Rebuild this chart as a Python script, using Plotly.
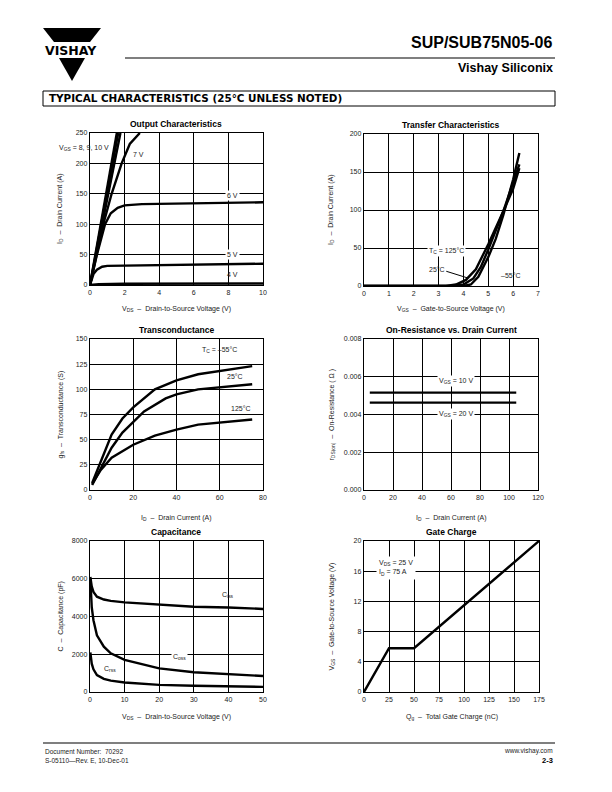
import plotly.graph_objects as go

W, H = 612, 792
FONT = "Liberation Sans"
TXT = "#222"

# ---------------- data ----------------
# Output characteristics (VDS in V, ID in A)
out_vds_10 = [0, 1.55]
out_id_10 = [0, 250]
out_vds_9 = [0, 1.63]
out_id_9 = [0, 250]
out_vds_8 = [0, 0.9, 1.76]
out_id_8 = [0, 126, 250]
out_vds_7 = [0, 0.4, 0.77, 1.25, 1.83, 2.3, 2.88]
out_id_7 = [0, 52, 100, 150, 200, 232, 250]
out_vds_6 = [0, 0.4, 0.87, 1.2, 1.6, 2.0, 3.0, 5.0, 8.0, 10.0]
out_id_6 = [0, 50, 100, 118, 127, 131, 133, 134, 135, 136]
out_vds_5 = [0, 0.2, 0.4, 0.7, 1.0, 2.0, 5.0, 8.0, 10.0]
out_id_5 = [0, 18, 25, 30, 31.5, 32, 33, 34, 35]
out_vds_4 = [0, 0.5, 2.0, 10.0]
out_id_4 = [0, 1.5, 2.0, 2.5]

# Transfer characteristics (VGS in V, ID in A)
tr_vgs_125 = [0, 3.3, 3.7, 4.1, 4.5, 5.0, 5.6, 6.0, 6.25]
tr_id_125 = [0, 0, 2, 8, 22, 55, 98, 128, 155]
tr_vgs_25 = [0, 3.6, 4.0, 4.4, 4.7, 5.0, 5.6, 6.0, 6.25]
tr_id_25 = [0, 0, 2, 10, 25, 48, 98, 135, 160]
tr_vgs_m55 = [0, 4.0, 4.3, 4.6, 5.0, 5.3, 5.6, 6.0, 6.25]
tr_id_m55 = [0, 0, 2, 12, 38, 62, 93, 140, 175]

# Transconductance (ID in A, gfs in S)
gfs_id_m55 = [1, 5, 10, 15, 20, 30, 40, 50, 60, 75]
gfs_m55 = [7, 28, 55, 71, 82, 100, 109, 115, 118, 123]
gfs_id_25 = [1, 5, 10, 15, 20, 25, 35, 40, 50, 60, 75]
gfs_25 = [5, 22, 42, 57, 68, 78, 91, 95, 100, 102, 105]
gfs_id_125 = [1, 5, 10, 20, 30, 40, 50, 60, 75]
gfs_125 = [6, 20, 32, 45, 54, 60, 65, 67, 70]

# On-resistance vs drain current
ron_id = [4, 105]
ron_10v = [0.00516, 0.00516]
ron_20v = [0.00463, 0.00463]

# Capacitance (VDS in V, C in pF)
cap_vds = [0.1, 0.5, 1, 2, 4, 6, 10, 20, 30, 40, 50]
c_iss = [6100, 5600, 5300, 5050, 4900, 4830, 4750, 4620, 4520, 4480, 4400]
c_oss = [6000, 4500, 3800, 3000, 2400, 2050, 1700, 1250, 1050, 950, 850]
c_rss = [2100, 1500, 1200, 900, 700, 600, 500, 380, 330, 300, 270]

# Gate charge (Qg in nC, VGS in V)
qg = [0, 25, 50, 175]
vgs_qg = [0, 5.8, 5.8, 20]


def px(x):
    return x / W


def py(y):
    return 1 - y / H


# plot areas in pixels (left, right, top, bottom)
areas = {
    1: (90, 263, 133, 285),
    2: (364, 538, 134, 286),
    3: (90, 263, 339, 490),
    4: (364, 538, 339, 490),
    5: (90, 263, 541, 692),
    6: (364, 539, 541, 692),
}
axes_cfg = {
    1: dict(xr=[0, 10], xd=2, yr=[0, 250], yd=50, yf=None),
    2: dict(xr=[0, 7], xd=1, yr=[0, 200], yd=50, yf=None),
    3: dict(xr=[0, 80], xd=20, yr=[0, 150], yd=25, yf=None),
    4: dict(xr=[0, 120], xd=20, yr=[0, 0.008], yd=0.002, yf=".3f"),
    5: dict(xr=[0, 50], xd=10, yr=[0, 8000], yd=2000, yf=None),
    6: dict(xr=[0, 175], xd=25, yr=[0, 20], yd=4, yf=None),
}

fig = go.Figure()

LW = 2.4


def line(x, y, n):
    fig.add_trace(go.Scatter(
        x=x, y=y, mode="lines", xaxis=f"x{n}", yaxis=f"y{n}",
        line=dict(color="black", width=LW), showlegend=False,
        hoverinfo="skip"))


for xs, ys in [(out_vds_10, out_id_10), (out_vds_9, out_id_9), (out_vds_8, out_id_8),
               (out_vds_7, out_id_7), (out_vds_6, out_id_6), (out_vds_5, out_id_5),
               (out_vds_4, out_id_4)]:
    line(xs, ys, 1)
for xs, ys in [(tr_vgs_125, tr_id_125), (tr_vgs_25, tr_id_25), (tr_vgs_m55, tr_id_m55)]:
    line(xs, ys, 2)
for xs, ys in [(gfs_id_m55, gfs_m55), (gfs_id_25, gfs_25), (gfs_id_125, gfs_125)]:
    line(xs, ys, 3)
line(ron_id, ron_10v, 4)
line(ron_id, ron_20v, 4)
for ys in [c_iss, c_oss, c_rss]:
    line(cap_vds, ys, 5)
line(qg, vgs_qg, 6)

layout = dict(
    template="none",
    width=W, height=H, margin=dict(l=0, r=0, t=0, b=0),
    paper_bgcolor="white", plot_bgcolor="white",
    font=dict(family=FONT, size=7, color=TXT),
    showlegend=False,
)
for n, (l, r, t, b) in areas.items():
    c = axes_cfg[n]
    sx = "" if n == 1 else str(n)
    common = dict(showgrid=True, gridcolor="#000000", gridwidth=1.3,
                  showline=True, linecolor="black", linewidth=1.4, mirror=True,
                  zeroline=False, ticks="", tickfont=dict(size=7, color=TXT),
                  fixedrange=True, tickmode="linear")
    layout[f"xaxis{sx}"] = dict(domain=[px(l), px(r)], range=c["xr"], dtick=c["xd"],
                                tick0=0, anchor=f"y{n}", **common)
    ya = dict(domain=[py(b), py(t)], range=c["yr"], dtick=c["yd"], tick0=0,
              anchor=f"x{n}", **common)
    if c["yf"]:
        ya["tickformat"] = c["yf"]
    layout[f"yaxis{sx}"] = ya

fig.update_layout(**layout)

ann = []


def pa(text, x, y, size=7, bold=False, anchor="center", color=TXT, angle=0, family=FONT):
    if bold:
        text = f"<b>{text}</b>"
    ann.append(dict(text=text, x=px(x), y=py(y), xref="paper", yref="paper",
                    showarrow=False, xanchor=anchor, yanchor="middle",
                    font=dict(family=family, size=size, color=color), textangle=angle))


def da(text, x, y, n, anchor="center", bg=None):
    d = dict(text=text, x=x, y=y, xref=f"x{n}", yref=f"y{n}", showarrow=False,
             xanchor=anchor, yanchor="middle", font=dict(family=FONT, size=7, color=TXT))
    if bg:
        d["bgcolor"] = bg
        d["borderpad"] = 1
    ann.append(d)


# chart titles
titles = {1: "Output Characteristics", 2: "Transfer Characteristics", 3: "Transconductance",
          4: "On-Resistance vs. Drain Current", 5: "Capacitance", 6: "Gate Charge"}
for n, t in titles.items():
    l, r, tp, b = areas[n]
    pa(t, (l + r) / 2, tp - 9, size=8.5, bold=True, color="black")

# axis titles
xtitles = {1: "V<sub>DS</sub>  –  Drain-to-Source Voltage (V)",
           2: "V<sub>GS</sub>  –  Gate-to-Source Voltage (V)",
           3: "I<sub>D</sub>  –  Drain Current (A)",
           4: "I<sub>D</sub>  –  Drain Current (A)",
           5: "V<sub>DS</sub>  –  Drain-to-Source Voltage (V)",
           6: "Q<sub>g</sub>  –  Total Gate Charge (nC)"}
xt_y = {1: 309, 2: 309, 3: 518, 4: 518, 5: 717, 6: 717}
for n, t in xtitles.items():
    l, r, tp, b = areas[n]
    pa(t, (l + r) / 2, xt_y[n], size=7)

ytitles = {1: "I<sub>D</sub>  –  Drain Current (A)",
           2: "I<sub>D</sub>  –  Drain Current (A)",
           3: "g<sub>fs</sub>  –  Transconductance (S)",
           4: "r<sub>DS(on)</sub>  –  On-Resistance ( Ω )",
           5: "C  –  Capacitance (pF)",
           6: "V<sub>GS</sub>  –  Gate-to-Source Voltage (V)"}
for n, t in ytitles.items():
    l, r, tp, b = areas[n]
    xx = 60 if l < 200 else 331
    pa(t, xx, (tp + b) / 2, size=7, angle=-90)

# in-chart labels
pa("V<sub>GS</sub> = 8, 9, 10 V", 57, 148, anchor="left")
da("7 V", 2.83, 215, 1)
da("6 V", 8.23, 148, 1, bg="white")
da("5 V", 8.23, 49.5, 1, bg="white")
da("4 V", 8.23, 17.6, 1)

da("T<sub>C</sub> = 125°C", 3.31, 46, 2, bg="white")
da("25°C", 2.94, 21.5, 2)
ann.append(dict(x=4.18, y=10.5, ax=3.25, ay=20, xref="x2", yref="y2", axref="x2", ayref="y2",
                showarrow=True, arrowhead=0, arrowwidth=1, arrowcolor="black", text=""))
da("–55°C", 5.9, 14, 2)

da("T<sub>C</sub> = –55°C", 60, 139, 3)
da("25°C", 67, 112.6, 3)
da("125°C", 70, 81, 3)

da("V<sub>GS</sub> = 10 V", 63.7, 0.00578, 4, bg="white")
da("V<sub>GS</sub> = 20 V", 63.7, 0.00401, 4, bg="white")

da("C<sub>iss</sub>", 39.9, 5130, 5)
da("C<sub>oss</sub>", 26, 1860, 5, bg="white")
da("C<sub>rss</sub>", 5.8, 1200, 5)

ann.append(dict(text="V<sub>DS</sub> = 25 V<br>I<sub>D</sub> = 75 A", x=12, y=16.4,
                xref="x6", yref="y6", showarrow=False, xanchor="left", yanchor="middle",
                align="left", bgcolor="white", borderpad=2,
                font=dict(family=FONT, size=7, color=TXT)))

# header / footer text
pa("SUP/SUB75N05-06", 555, 43, size=16, bold=True, anchor="right", color="black")
pa("Vishay Siliconix", 555, 68, size=12.5, bold=True, anchor="right", color="black")
pa("TYPICAL CHARACTERISTICS (25°C UNLESS NOTED)", 47, 98.5, size=10.4, bold=True,
   anchor="left", color="black", family="DejaVu Sans")
pa("VISHAY", 71, 50, size=12.5, bold=True, color="black", family="DejaVu Sans")
pa("Document Number:  70292", 43, 751, size=6.5, anchor="left")
pa("S-05110—Rev. E, 10-Dec-01", 43, 760, size=6.5, anchor="left")
pa("www.vishay.com", 555, 751, size=6.5, anchor="right")
pa("2-3", 555, 760, size=7.5, bold=True, anchor="right", color="black")

fig.update_layout(annotations=ann)

shapes = [
    # header rule
    dict(type="line", xref="paper", yref="paper", x0=px(125), x1=px(555), y0=py(58), y1=py(58),
         line=dict(color="black", width=1.2)),
    # section box
    dict(type="rect", xref="paper", yref="paper", x0=px(43), x1=px(555), y0=py(91), y1=py(106),
         line=dict(color="black", width=1), fillcolor="rgba(0,0,0,0)"),
    # footer rule
    dict(type="line", xref="paper", yref="paper", x0=px(43), x1=px(555), y0=py(743), y1=py(743),
         line=dict(color="black", width=1.2)),
    # logo upper part
    dict(type="path", xref="paper", yref="paper",
         path=f"M {px(43)},{py(28)} L {px(101)},{py(28)} L {px(90)},{py(42)} L {px(54)},{py(42)} Z",
         fillcolor="black", line=dict(width=0)),
    # logo lower triangle
    dict(type="path", xref="paper", yref="paper",
         path=f"M {px(59)},{py(58)} L {px(85)},{py(58)} L {px(72)},{py(81)} Z",
         fillcolor="black", line=dict(width=0)),
]
fig.update_layout(shapes=shapes)

fig.write_html("out.html", include_plotlyjs=True, full_html=True,
               config={"displayModeBar": False},
               post_script="document.body.style.margin='0';")
